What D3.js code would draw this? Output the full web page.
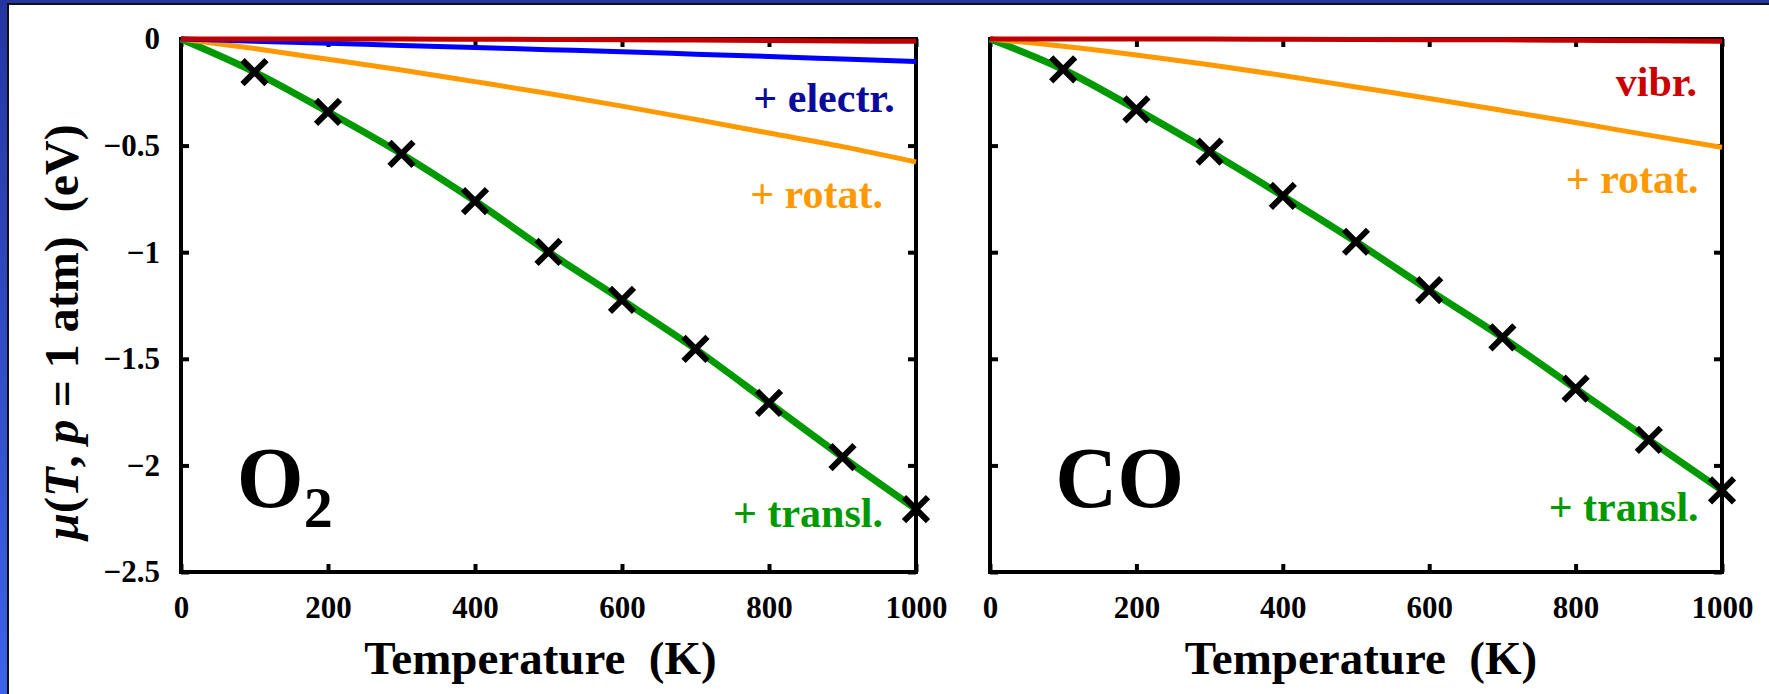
<!DOCTYPE html>
<html>
<head>
<meta charset="utf-8">
<script src="https://cdn.jsdelivr.net/npm/d3@7"></script>
<style>
  html, body { margin: 0; padding: 0; background: #fff; }
  svg { display: block; }
  text { font-family: "Liberation Serif", "Times New Roman", serif; }
</style>
</head>
<body>
<div id="app"></div>
<script>
// temperatures (K) used for the model curves
const temps = [0, 100, 200, 300, 400, 500, 600, 700, 800, 900, 1000];
// temperatures of the reference points (crosses)
const markerTemps = [100, 200, 300, 400, 500, 600, 700, 800, 900, 1000];

// O2, cumulative contributions (eV)
const o2Vibr    = [0, 0, 0, 0, -0.001, -0.002, -0.003, -0.005, -0.007, -0.009, -0.011];
const o2Electr  = [0, -0.010, -0.020, -0.030, -0.040, -0.050, -0.060, -0.071, -0.082, -0.094, -0.106];
const o2Rotat   = [0, -0.045, -0.095, -0.145, -0.200, -0.256, -0.315, -0.377, -0.441, -0.505, -0.577];
const o2Transl  = [0, -0.155, -0.342, -0.539, -0.760, -0.999, -1.224, -1.454, -1.707, -1.961, -2.205];
const o2Points  = [-0.155, -0.342, -0.539, -0.760, -0.999, -1.224, -1.454, -1.707, -1.961, -2.205];

// CO, cumulative contributions (eV)
const coVibr    = [0, 0, 0, 0, -0.001, -0.002, -0.003, -0.004, -0.006, -0.008, -0.011];
const coRotat   = [0, -0.034, -0.075, -0.121, -0.171, -0.225, -0.279, -0.335, -0.392, -0.451, -0.508];
const coTransl  = [0, -0.143, -0.330, -0.528, -0.736, -0.951, -1.178, -1.400, -1.640, -1.880, -2.117];
const coPoints  = [-0.143, -0.330, -0.528, -0.736, -0.951, -1.178, -1.400, -1.640, -1.880, -2.117];

const xTicks = [0, 200, 400, 600, 800, 1000];
const yTicks = [0, -0.5, -1, -1.5, -2, -2.5];

const W = 1769, H = 694;
const plotTop = 39, plotBottom = 572;

const svg = d3.select("#app")
  .append("svg")
  .attr("width", W)
  .attr("height", H);

// slide frame
const defs = svg.append("defs");
const grad = defs.append("linearGradient")
  .attr("id", "side")
  .attr("x1", 0).attr("y1", 0).attr("x2", 0).attr("y2", 1);
grad.append("stop").attr("offset", "0%").attr("stop-color", "#2535a0");
grad.append("stop").attr("offset", "100%").attr("stop-color", "#3d63ea");

svg.append("rect").attr("width", W).attr("height", H).attr("fill", "#fff");
svg.append("rect").attr("x", 0).attr("y", 0).attr("width", W).attr("height", 3).attr("fill", "#2436a0");
svg.append("rect").attr("x", 0).attr("y", 0).attr("width", 7).attr("height", H).attr("fill", "url(#side)");
svg.append("rect").attr("x", 7).attr("y", 3).attr("width", W - 7).attr("height", 2).attr("fill", "#111");
svg.append("rect").attr("x", 7).attr("y", 3).attr("width", 2).attr("height", H - 3).attr("fill", "#111");

const red = "#c00000", blue = "#0000ff", orange = "#ff9900", green = "#009900";

function panel(opt) {
  const x = d3.scaleLinear().domain([0, 1000]).range([opt.x0, opt.x1]);
  const y = d3.scaleLinear().domain([-2.5, 0]).range([plotBottom, plotTop]);
  const g = svg.append("g");

  // ticks (inward on all four sides)
  const fmt = d => d === 0 ? "0" : d3.format("")(d);
  const xb = g.append("g").attr("transform", `translate(0,${plotBottom})`)
    .call(d3.axisBottom(x).tickValues(xTicks).tickSize(-8).tickSizeOuter(0).tickPadding(24).tickFormat(fmt));
  const xt = g.append("g").attr("transform", `translate(0,${plotTop})`)
    .call(d3.axisTop(x).tickValues(xTicks).tickSize(-8).tickSizeOuter(0).tickFormat(""));
  const yl = g.append("g").attr("transform", `translate(${opt.x0},0)`)
    .call(d3.axisLeft(y).tickValues(yTicks).tickSize(-8).tickSizeOuter(0).tickPadding(21)
      .tickFormat(opt.yLabels ? fmt : ""));
  const yr = g.append("g").attr("transform", `translate(${opt.x1},0)`)
    .call(d3.axisRight(y).tickValues(yTicks).tickSize(-8).tickSizeOuter(0).tickFormat(""));
  [xb, xt, yl, yr].forEach(a => {
    a.select(".domain").remove();
    a.selectAll(".tick line").attr("stroke", "#000").attr("stroke-width", 4);
    a.selectAll(".tick text")
      .attr("fill", "#000")
      .style("font-family", '"Liberation Serif", "Times New Roman", serif')
      .style("font-size", "31px")
      .style("font-weight", "bold");
  });

  // frame
  g.append("rect")
    .attr("x", opt.x0).attr("y", plotTop)
    .attr("width", opt.x1 - opt.x0).attr("height", plotBottom - plotTop)
    .attr("fill", "none").attr("stroke", "#000").attr("stroke-width", 4);

  const line = d3.line()
    .x((d, i) => x(temps[i]))
    .y(d => y(d))
    .curve(d3.curveMonotoneX);

  opt.curves.forEach(c => {
    g.append("path")
      .datum(c.values)
      .attr("d", line)
      .attr("fill", "none")
      .attr("stroke", c.color)
      .attr("stroke-width", c.width)
      .attr("stroke-linejoin", "round");
  });

  // reference crosses
  const s = 12;
  g.selectAll(".cross")
    .data(opt.points)
    .enter()
    .append("path")
    .attr("class", "cross")
    .attr("d", (d, i) => {
      const cx = x(markerTemps[i]), cy = y(d);
      return `M${cx - s},${cy - s}L${cx + s},${cy + s}M${cx - s},${cy + s}L${cx + s},${cy - s}`;
    })
    .attr("fill", "none")
    .attr("stroke", "#000")
    .attr("stroke-width", 6);

  // curve labels
  opt.labels.forEach(l => {
    g.append("text")
      .attr("x", x(l.t)).attr("y", y(l.mu))
      .attr("text-anchor", "end")
      .attr("fill", l.color)
      .style("font-size", "42px")
      .style("font-weight", "bold")
      .text(l.text);
  });

  // molecule name
  const name = g.append("text")
    .attr("x", x(opt.nameAt[0])).attr("y", y(opt.nameAt[1]))
    .style("font-size", "86px")
    .style("font-weight", "bold")
    .attr("fill", "#000");
  name.append("tspan").text(opt.name);
  if (opt.sub) {
    name.append("tspan").attr("dy", 20).style("font-size", "58px").text(opt.sub);
  }

  // x title
  g.append("text")
    .attr("x", (opt.x0 + opt.x1) / 2 - opt.titleShift).attr("y", 674)
    .attr("text-anchor", "middle")
    .attr("xml:space", "preserve")
    .style("white-space", "pre")
    .style("font-size", "47px")
    .style("font-weight", "bold")
    .attr("fill", "#000")
    .text("Temperature  (K)");
}

panel({
  x0: 181, x1: 916, yLabels: true,
  curves: [
    { values: o2Transl, color: green, width: 7 },
    { values: o2Rotat, color: orange, width: 5 },
    { values: o2Electr, color: blue, width: 5 },
    { values: o2Vibr, color: red, width: 5 }
  ],
  points: o2Points,
  labels: [
    { text: "+ electr.", t: 971, mu: -0.342, color: "#0a0a9c" },
    { text: "+ rotat.", t: 955, mu: -0.793, color: orange },
    { text: "+ transl.", t: 955, mu: -2.289, color: green }
  ],
  name: "O", sub: "2", nameAt: [76, -2.195],
  titleShift: 8
});

panel({
  x0: 990, x1: 1722, yLabels: false,
  curves: [
    { values: coTransl, color: green, width: 7 },
    { values: coRotat, color: orange, width: 5 },
    { values: coVibr, color: red, width: 5 }
  ],
  points: coPoints,
  labels: [
    { text: "vibr.", t: 966, mu: -0.267, color: "#cc0000" },
    { text: "+ rotat.", t: 968, mu: -0.722, color: orange },
    { text: "+ transl.", t: 968, mu: -2.261, color: green }
  ],
  name: "CO", nameAt: [89, -2.195],
  titleShift: -5
});

// y axis title
const yt = svg.append("text")
  .attr("transform", "translate(78,332) rotate(-90)")
  .attr("text-anchor", "middle")
  .attr("xml:space", "preserve")
  .style("white-space", "pre")
  .style("font-size", "48px")
  .style("font-weight", "bold")
  .attr("fill", "#000");
yt.append("tspan").style("font-style", "italic").text("μ");
yt.append("tspan").text("(");
yt.append("tspan").style("font-style", "italic").text("T");
yt.append("tspan").text(", ");
yt.append("tspan").style("font-style", "italic").text("p");
yt.append("tspan").text(" = 1 atm)  (eV)");
</script>
</body>
</html>
